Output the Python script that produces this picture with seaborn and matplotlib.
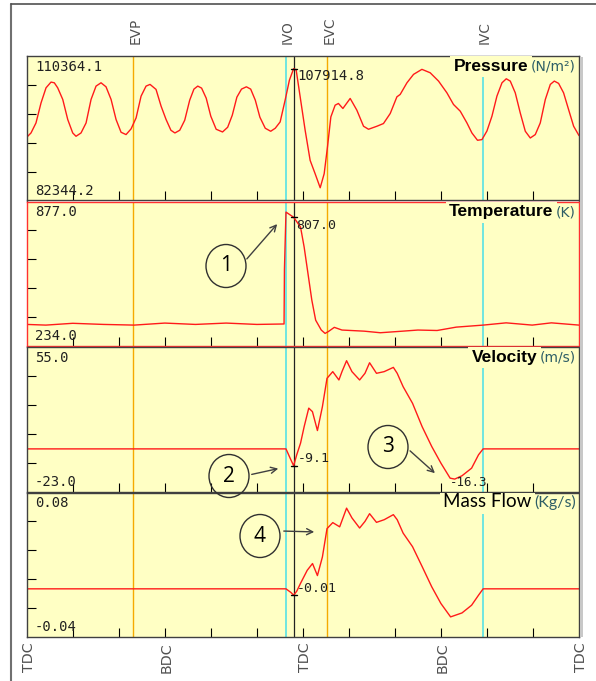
import matplotlib
matplotlib.use('Agg')
import matplotlib.pyplot as plt
import matplotlib.transforms as mtransforms
from matplotlib.patches import Ellipse, Rectangle, FancyArrowPatch
from matplotlib.lines import Line2D
import seaborn as sns

sns.set_style('white')
plt.rcParams['font.family'] = ['DejaVu Sans']

W, H = 596, 681

# crank angle (deg) and traces
p_angle = [0, 5.6, 12.1, 18.7, 25.2, 31.7, 36.0, 40.4, 47.0, 53.5, 60.0, 64.3, 70.8,
           77.4, 83.9, 90.4, 96.9, 103.4, 110.0, 116.5, 123.0, 129.5, 136.0, 142.6,
           149.1, 155.6, 160.8, 168.6, 175.2, 181.7, 188.0, 193.2, 199.5, 206.0, 212.5,
           218.0, 223.0, 228.0, 234.0, 240.0, 247.0, 255.3, 262.0, 268.0, 274.0, 280.0,
           286.4, 292.0, 298.0, 304.0, 311.0, 318.1, 324.0, 330.4, 336.9, 342.5, 348.0,
           351.3, 356.5, 363.0, 369.5, 376.0, 382.6, 387.8, 392.1, 396.5, 402.1, 406.4,
           412.2, 421.7, 430.4, 439.1, 445.6, 456.5, 465.1, 473.9, 482.6, 486.9, 495.7,
           504.3, 515.2, 526.0, 536.9, 547.8, 556.4, 565.2, 573.9, 580.4, 587.7, 593.5,
           600.0, 606.5, 613.0, 619.6, 625.2, 630.4, 636.9, 643.4, 650.0, 656.5, 663.0,
           669.5, 676.1, 682.6, 687.8, 693.4, 699.9, 706.4, 713.0, 720]
p_value = [94603, 95440, 97385, 101277, 104196, 105305, 105169, 104196, 101939, 98047,
           95440, 94798, 95440, 97385, 101939, 104527, 105169, 104390, 101939, 98047,
           95576, 95128, 96218, 98358, 102581, 104527, 104857, 103885, 100635, 98047,
           95965, 95440, 95965, 97911, 101802, 103943, 104527, 104137, 102192, 98689,
           96160, 95634, 96548, 98884, 102386, 103943, 104390, 103943, 101802, 98494,
           96354, 95770, 96354, 97580, 101802, 105694, 107914.8, 107640, 102445, 95965,
           90128, 87540, 84816, 87540, 92716, 98553, 100830, 101160, 100187, 102133,
           99857, 96743, 96160, 96743, 97269, 99215, 102445, 102912, 105169, 106803,
           107776, 107114, 105499, 103223, 100966, 99662, 97385, 95440, 94019, 94156,
           95829, 98689, 102581, 105169, 105947, 105499, 103223, 99331, 95770, 94467,
           95128, 97385, 101939, 104857, 105499, 105052, 103223, 99993, 96743, 94934]

t_angle = [0, 25, 60, 100, 140, 180, 220, 260, 300, 335.5, 336.0, 338.0, 344.0, 348.0,
           357.0, 361.7, 366.7, 371.7, 376.7, 384.0, 389.0, 394.0, 401.0, 411.0, 440.0,
           461.0, 490.0, 510.0, 535.0, 560.0, 595.0, 625.0, 659.0, 684.0, 720]
t_value = [330, 327, 335, 330, 327, 336, 330, 336, 330, 332, 575, 830, 816, 807,
           763, 674, 556, 438, 349, 305, 290, 300, 317, 305, 300,
           293, 300, 305, 303, 318, 327, 337, 327, 337, 327]

v_angle = [0, 338, 344.4, 348, 352, 357, 361.7, 367.7, 372.5, 379, 385.5, 391.5, 399,
           407, 411, 417, 424, 434, 441, 447, 456, 466, 478, 483, 490.7, 503, 515.5,
           528, 540, 552, 558, 567.5, 580, 589, 595, 720]
v_value = [0, 0, -5.9, -9.1, -3.2, 3.1, 12, 22, 20.1, 9.9, 22.8, 38.1, 41.7,
           37.2, 41.7, 47.6, 41.7, 37.2, 40.8, 46.5, 40.8, 41.7, 44, 40.8, 33.6, 24.6, 12,
           1.3, -7.7, -15.8, -16.3, -14.5, -10.4, -3.2, 0, 0]

m_angle = [0, 338, 344.4, 348, 352, 357, 365.7, 372.6, 379, 385.5, 391.5, 399, 408,
           417, 424, 434, 441, 447, 456, 466, 478, 483, 490.7, 503, 515.5, 528, 540,
           552.6, 567.5, 580, 589, 595, 720]
m_value = [0, 0, -0.003, -0.0053, -0.002, 0.0046, 0.0154, 0.021, 0.011, 0.0265, 0.050,
           0.055, 0.0515, 0.067, 0.0589, 0.0505, 0.056, 0.0624, 0.0552, 0.0574, 0.0616,
           0.0574, 0.0463, 0.035, 0.0185, 0.0017, -0.0122, -0.0233, -0.020, -0.0136,
           -0.0053, 0, 0]

titles = ['Pressure', 'Temperature', 'Velocity', 'Mass Flow']
units = ['(N/m²)', '(K)', '(m/s)', '(Kg/s)']
y_min = [82344.2, 234.0, -23.0, -0.04]
y_max = [110364.1, 877.0, 55.0, 0.08]
min_labels = ['82344.2', '234.0', '-23.0', '-0.04']
max_labels = ['110364.1', '877.0', '55.0', '0.08']

valve_names = ['EVP', 'IVO', 'EVC', 'IVC']
valve_angles = [139, 338, 392, 595]
valve_colors = ['#F5AA00', '#70E6E0', '#F5AA00', '#70E6E0']

cursor_angle = 348
cursor_values = [107914.8, 807.0, -9.1, -0.0053]
cursor_labels = ['107914.8', '807.0', '-9.1', '-0.01']
cursor_offsets = [(3, -5), (2, -6), (3, 5), (2, 5)]

dc_names = ['TDC', 'BDC', 'TDC', 'BDC', 'TDC']
dc_angles = [0, 180, 360, 540, 720]

# numbered callouts (figure pixels, from top-left)
callout_nums = ['1', '2', '3', '4']
callout_xy = [(226, 266), (229, 476), (388, 447), (260, 536)]
arrow_from = [(245, 261), (249, 475), (408, 449), (281, 531)]
arrow_to = [(279, 222), (281, 468), (437, 475), (317, 532)]

series = [(p_angle, p_value), (t_angle, t_value), (v_angle, v_value), (m_angle, m_value)]
borders = ['#404040', '#FF3030', '#404040', '#404040']
bg = '#FFFFC4'

fig = plt.figure(figsize=(W / 100, H / 100), dpi=100)

x0, pw, ph = 26.7, 552.3, 144.5
tops = [56, 201.5, 347, 492.5]
axes = []
for i in range(4):
    ax = fig.add_axes([x0 / W, 1 - (tops[i] + ph) / H, pw / W, ph / H])
    ax.set_facecolor(bg)
    xs, ys = series[i]
    sns.lineplot(x=xs, y=ys, ax=ax, color='#FF1A1A', lw=1.0, estimator=None, sort=False)
    ax.set_xlim(0, 720)
    ax.set_ylim(y_min[i], y_max[i])
    span = y_max[i] - y_min[i]
    ax.set_xticks(range(60, 720, 60))
    ax.set_yticks([y_min[i] + f * span for f in (0.2, 0.4, 0.6, 0.8)])
    ax.tick_params(direction='in', length=6.5, width=0.8, color='black',
                   bottom=True, left=True, labelbottom=False, labelleft=False)
    ax.set_xlabel('')
    ax.set_ylabel('')
    for s in ax.spines.values():
        s.set_color(borders[i])
        s.set_linewidth(1)

    for a, c in zip(valve_angles, valve_colors):
        ax.axvline(a, color=c, lw=1.4 if c.startswith('#70') else 1.0, zorder=1.5)
    ax.axvline(cursor_angle, color='#222222', lw=0.9, zorder=1.6)

    # min / max readouts
    ax.text(0.015, 0.926, max_labels[i], transform=ax.transAxes, family='DejaVu Sans Mono',
            size=10, va='center', color='#202020')
    ax.text(0.015, 0.068, min_labels[i], transform=ax.transAxes, family='DejaVu Sans Mono',
            size=10, va='center', color='#202020')

    # title + unit, right aligned
    if titles[i] == 'Mass Flow':
        tfam, ufam, tweight, tsize, usize = 'Lato', 'Lato', 'normal', 13.5, 11.5
    else:
        tfam, ufam, tweight, tsize, usize = 'Liberation Sans', 'DejaVu Sans', 'bold', 12.5, 10
    ut = ax.text(0.9946, 0.898, units[i], transform=ax.transAxes, ha='right', va='baseline',
                 family=ufam, size=usize, color='#2E5E66', zorder=5)
    tt = ax.annotate(titles[i], xy=(0, 0.898), xycoords=(ut, 'axes fraction'),
                     xytext=(-2, 0), textcoords='offset points', ha='right', va='baseline',
                     family=tfam, weight=tweight, size=tsize, color='black', zorder=5,
                     bbox=dict(fc=bg, ec='none', pad=2.5))
    tt.set_clip_on(True)
    tt.set_clip_box(ax.bbox)

    # cursor readout
    cv = cursor_values[i]
    ax.plot([cursor_angle - 4, cursor_angle + 4], [cv, cv], color='black', lw=1, zorder=4)
    ax.annotate(cursor_labels[i], xy=(cursor_angle, cv), xytext=cursor_offsets[i],
                textcoords='offset points', ha='left', va='center',
                family='DejaVu Sans Mono', size=10 if i == 0 else 9.5, color='#202020',
                zorder=5)
    axes.append(ax)

axes[2].text(552, -18.4, '-16.3', family='DejaVu Sans Mono', size=9, va='center',
             color='#202020')

# valve event labels on top, dead centres at the bottom
top_tr = mtransforms.blended_transform_factory(axes[0].transData, fig.transFigure)
for name, a in zip(valve_names, valve_angles):
    fig.text(a + 2.5, 1 - 44 / H, name, transform=top_tr, rotation=90, ha='center',
             va='bottom', size=9.8, color='#505050')
bot_tr = mtransforms.blended_transform_factory(axes[3].transData, fig.transFigure)
for name, a in zip(dc_names, dc_angles):
    fig.text(a + 2.5, 1 - 642 / H, name, transform=bot_tr, rotation=90, ha='center',
             va='top', size=10.3, color='#505050')

# panel shadow and outer frame
fig.patches.append(Rectangle((579.7 / W, 1 - 637 / H), 3 / W, 580 / H,
                             transform=fig.transFigure, fc='#C8C8C8', ec='none', zorder=0))
fig.lines.append(Line2D([10.6 / W, 10.6 / W], [1 - 4.3 / H, 0], transform=fig.transFigure,
                        color='#707070', lw=1.5))
fig.lines.append(Line2D([10.6 / W, 1], [1 - 4.3 / H, 1 - 4.3 / H], transform=fig.transFigure,
                        color='#505050', lw=1.2))

# numbered callouts with arrows
for num, (cx, cy), (sx, sy), (ex, ey) in zip(callout_nums, callout_xy, arrow_from, arrow_to):
    fig.patches.append(Ellipse((cx / W, 1 - cy / H), 40 / W, 43 / H, transform=fig.transFigure,
                               fc='none', ec='#303030', lw=1.0, zorder=10))
    fig.text(cx / W, 1 - cy / H, num, ha='center', va='center', family='Open Sans', size=15,
             color='black', zorder=11)
    fig.add_artist(FancyArrowPatch(
        (sx / W, 1 - sy / H), (ex / W, 1 - ey / H), transform=fig.transFigure,
        arrowstyle='->', mutation_scale=11, color='#404040', lw=1.0, zorder=10))

fig.savefig('out.png', dpi=100, facecolor='white')
